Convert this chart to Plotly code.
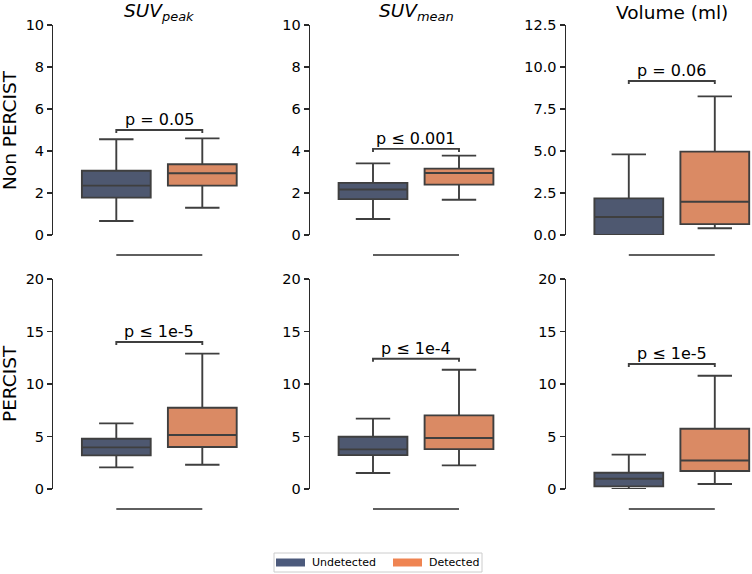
import plotly.graph_objects as go

# ---------------- data ----------------
groups = ["Undetected", "Detected"]
col_titles = ["<i>SUV</i><sub><i>peak</i></sub>", "<i>SUV</i><sub><i>mean</i></sub>", "Volume (ml)"]
row_labels = ["Non PERCIST", "PERCIST"]

# panels ordered: row1 (c1,c2,c3), row2 (c1,c2,c3)
lower_undet = [0.67, 0.76, 0.0, 2.06, 1.52, 0.0]
q1_undet = [1.78, 1.71, 0.0, 3.2, 3.23, 0.25]
med_undet = [2.35, 2.17, 1.07, 3.96, 3.77, 0.98]
q3_undet = [3.06, 2.48, 2.18, 4.79, 4.98, 1.55]
upper_undet = [4.56, 3.41, 4.8, 6.25, 6.7, 3.27]

lower_det = [1.3, 1.68, 0.4, 2.31, 2.25, 0.48]
q1_det = [2.35, 2.4, 0.65, 4.0, 3.8, 1.71]
med_det = [2.94, 2.95, 1.98, 5.14, 4.86, 2.72]
q3_det = [3.37, 3.16, 4.96, 7.74, 7.01, 5.74]
upper_det = [4.6, 3.78, 8.25, 12.89, 11.36, 10.79]

p_labels = ["p = 0.05", "p ≤ 0.001", "p = 0.06", "p ≤ 1e-5", "p ≤ 1e-4", "p ≤ 1e-5"]
bracket_y = [5.0, 4.1, 9.17, 14.0, 12.4, 11.9]

y_max = [10, 10, 12.5, 20, 20, 20]
y_dtick = [2, 2, 2.5, 5, 5, 5]
y_fmt = ["d", "d", ".1f", "d", "d", "d"]

# ---------------- style ----------------
W, H = 752, 574
FONT = "DejaVu Sans"
box_fill = ["#4E5870", "#DA8A64"]
legend_fill = ["#4C5A7C", "#EF8452"]
edge = "#3f3f3f"

u = 86.0                      # px per category unit
spine_px = [53.3, 310.0, 565.8]
x_start = -63.0 / u
row_top_px = [25.0, 279.0]
row_h_px = 210.0
bottom_line_px = [255.0, 509.0]

def py(px):
    return 1 - px / H

fig = go.Figure()
layout = dict(
    width=W, height=H, margin=dict(l=0, r=0, t=0, b=0, pad=0, autoexpand=False),
    paper_bgcolor="white", plot_bgcolor="white", showlegend=False,
    font=dict(family=FONT, color="black"),
)
shapes = []
annotations = []

for k in range(6):
    r, c = divmod(k, 3)
    idx = k + 1
    xa = "x" if idx == 1 else f"x{idx}"
    ya = "y" if idx == 1 else f"y{idx}"
    xkey = "xaxis" if idx == 1 else f"xaxis{idx}"
    ykey = "yaxis" if idx == 1 else f"yaxis{idx}"

    s = spine_px[c]
    end_px = min(s + 190.0, W)
    x_end = x_start + (end_px - s) / u
    layout[xkey] = dict(domain=[s / W, end_px / W], range=[x_start, x_end],
                        visible=False, anchor=ya, fixedrange=True, automargin=False)
    top = row_top_px[r]
    layout[ykey] = dict(domain=[py(top + row_h_px), py(top)], range=[0, y_max[k]],
                        anchor=xa, dtick=y_dtick[k], tick0=0, tickformat=y_fmt[k],
                        showline=True, linecolor="#2a2a2a", linewidth=1.3,
                        ticks="outside", ticklen=5, tickwidth=1.3, tickcolor="#2a2a2a",
                        showgrid=False, zeroline=False, automargin=False,
                        tickfont=dict(size=14.5, family=FONT, color="black"),
                        fixedrange=True)

    stats = [
        (lower_undet[k], q1_undet[k], med_undet[k], q3_undet[k], upper_undet[k]),
        (lower_det[k], q1_det[k], med_det[k], q3_det[k], upper_det[k]),
    ]
    for g, (lo, a, m, b, hi) in enumerate(stats):
        fig.add_trace(go.Box(
            x=[g], lowerfence=[lo], q1=[a], median=[m], q3=[b], upperfence=[hi],
            width=0.8, whiskerwidth=0.5, fillcolor=box_fill[g],
            line=dict(color=edge, width=1.9), boxpoints=False,
            name=groups[g], xaxis=xa, yaxis=ya, hoverinfo="skip",
        ))

    # significance bracket
    by = bracket_y[k]
    leg = 3.0 * y_max[k] / row_h_px
    shapes.append(dict(type="path", xref=xa, yref=ya,
                       path=f"M 0,{by - leg} L 0,{by} L 1,{by} L 1,{by - leg}",
                       line=dict(color=edge, width=1.9)))
    annotations.append(dict(xref=xa, yref=ya, x=0.5, y=by, text=p_labels[k],
                            showarrow=False, yanchor="bottom", yshift=-1,
                            font=dict(size=16, family=FONT, color="black")))
    # trimmed x spine
    shapes.append(dict(type="line", xref=xa, yref="paper", x0=0, x1=1,
                       y0=py(bottom_line_px[r]), y1=py(bottom_line_px[r]),
                       line=dict(color="#2a2a2a", width=1.3)))
    # column titles
    if r == 0:
        annotations.append(dict(xref=xa, yref="paper", x=0.5, y=py(12.5),
                                text=col_titles[c], showarrow=False, yanchor="middle",
                                font=dict(size=18.5, family=FONT, color="black")))
    # row labels
    if c == 0:
        annotations.append(dict(xref="paper", yref="paper", x=9.0 / W,
                                y=py(top + row_h_px / 2), text=row_labels[r],
                                textangle=-90, showarrow=False,
                                xanchor="center", yanchor="middle",
                                font=dict(size=18.5, family=FONT, color="black")))

# legend (drawn manually)
shapes.append(dict(type="rect", xref="paper", yref="paper",
                   x0=274 / W, x1=482 / W, y0=py(572), y1=py(553),
                   line=dict(color="#cccccc", width=1), fillcolor="white"))
patch_x = [276, 393]
text_x = [310, 427]
for g in range(2):
    shapes.append(dict(type="rect", xref="paper", yref="paper",
                       x0=patch_x[g] / W, x1=(patch_x[g] + 29) / W,
                       y0=py(566.5), y1=py(558.5), line=dict(width=0),
                       fillcolor=legend_fill[g]))
    annotations.append(dict(xref="paper", yref="paper", x=text_x[g] / W, y=py(562.5),
                            text=groups[g], showarrow=False, xanchor="left",
                            yanchor="middle",
                            font=dict(size=11, family=FONT, color="black")))

layout["shapes"] = shapes
layout["annotations"] = annotations
fig.update_layout(**layout)
fig.write_html(
    "out.html",
    config={"displayModeBar": False, "staticPlot": True},
    post_script="document.body.style.margin='0px';document.body.style.overflow='hidden';",
)
